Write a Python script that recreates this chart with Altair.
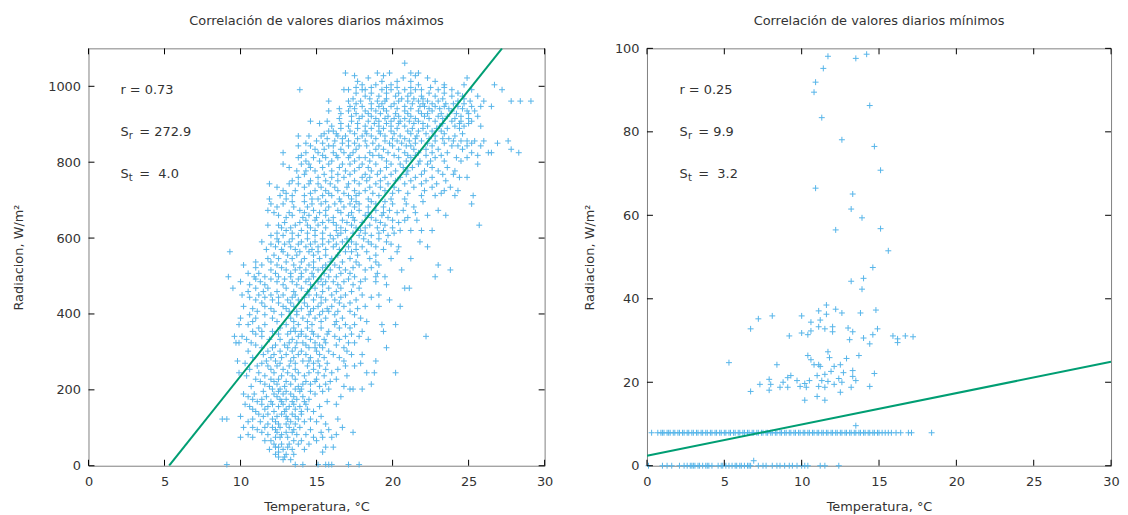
import altair as alt
import pandas as pd

# ---------------- data ----------------
# Left panel: daily maxima, rows of (radiation, [temperatures])
max_low = [
    (3, [9.1, 13.6, 14.1, 15.1, 15.6, 15.8, 16.0, 17.1, 17.8]),
    (23, [12.5, 12.9]),
    (36, [12.5, 15.4]),
    (49, [12.3, 12.5, 13.1, 15.6, 16.1]),
    (57, [12.2, 12.7, 13.2, 13.8, 14.5]),
    (75, [10.0, 10.8, 12.3, 12.6, 13.1, 14.8, 15.4, 16.0]),
    (88, [11.4, 12.4, 13.0, 13.4, 15.3, 17.4]),
    (101, [10.2, 10.8, 11.6, 12.1, 12.6, 13.2, 13.9, 16.7]),
    (110, [11.8, 12.5, 13.0, 13.6, 15.6]),
    (123, [8.8, 9.1, 10.8, 12.1, 13.1, 13.8, 14.6, 16.4]),
    (136, [11.2, 11.8, 12.7, 13.4, 14.0]),
    (149, [10.8, 11.6, 13.0, 13.6, 14.4]),
    (162, [10.3, 11.4, 12.1, 12.8, 13.5, 14.3, 16.3]),
    (175, [10.8, 11.4, 12.6, 13.0, 13.7, 14.5]),
    (189, [10.2, 10.9, 12.2, 12.8, 13.3, 14.9]),
    (202, [12.1, 12.6, 13.6, 14.0, 15.8, 17.2, 17.4, 18.0]),
    (215, [11.6, 12.4, 13.3, 14.1, 14.6, 15.6, 18.6]),
    (228, [11.0, 12.0, 12.5, 13.6, 15.0, 16.3]),
    (245, [9.9, 11.2, 12.2, 13.1, 13.8, 14.5, 15.1, 16.0, 18.3, 18.8, 20.2]),
    (263, [11.1, 11.8, 12.4, 13.2, 14.4, 15.2, 16.9, 17.5]),
    (276, [9.8, 11.7, 12.3, 13.3, 14.1, 14.5, 15.1, 16.8, 18.9]),
    (293, [11.5, 12.2, 13.0, 13.8, 14.3, 15.2, 16.1, 17.3, 18.0]),
    (311, [11.4, 12.1, 13.1, 13.6, 14.5, 14.9, 15.4, 16.8, 19.6]),
    (324, [9.7, 9.9, 10.7, 13.2, 13.7, 14.1, 14.9, 15.6, 17.1, 17.5]),
    (341, [9.6, 10.1, 11.4, 13.8, 14.3, 15.1, 16.2, 16.9, 17.8, 22.2]),
]
max_low_fill = [
    (16, [12.8, 13.3]),
    (30, [12.3, 13.0, 13.5]),
    (43, [11.9, 12.8, 13.4, 14.2]),
    (66, [11.6, 12.0, 13.5, 14.0, 15.0]),
    (82, [10.5, 11.8, 12.7, 13.7, 14.3, 16.3]),
    (95, [11.1, 12.3, 13.5, 14.6, 15.8]),
    (116, [10.5, 11.3, 12.3, 13.3, 14.2, 15.0]),
    (130, [10.0, 11.5, 12.4, 13.0, 13.6, 15.3]),
    (143, [11.0, 12.2, 12.9, 14.0, 14.8]),
    (156, [10.6, 11.8, 12.5, 13.2, 13.9, 15.2]),
    (169, [11.1, 12.0, 12.7, 13.4, 14.2, 15.7]),
    (182, [10.5, 11.7, 12.4, 13.5, 14.1, 16.6]),
    (196, [11.5, 12.5, 13.0, 13.9, 14.6, 15.4]),
    (209, [10.7, 11.9, 12.9, 13.8, 15.2, 16.8]),
    (222, [11.3, 12.2, 13.0, 14.3, 14.9, 15.9]),
    (237, [10.4, 11.6, 12.7, 13.4, 14.2, 15.5, 17.0]),
    (254, [10.6, 12.0, 12.8, 13.6, 14.8, 15.6, 16.4]),
    (270, [10.3, 11.4, 12.6, 13.6, 14.8, 15.7, 17.9]),
    (285, [10.8, 12.0, 12.7, 13.5, 14.6, 15.5, 16.5]),
    (302, [10.5, 11.8, 12.6, 13.4, 14.0, 15.0, 15.8, 17.0]),
    (318, [11.0, 12.3, 12.9, 14.3, 15.2, 16.3]),
    (333, [10.4, 11.9, 12.6, 13.4, 14.6, 15.5, 16.5, 18.4]),
    (347, [11.0, 12.5, 13.1, 14.0, 14.8, 15.7, 17.3]),
]
max_mid = [
    (354, [10.8, 11.4, 12.1, 13.3, 13.6, 14.0, 14.7, 15.8, 18.0, 19.4]),
    (372, [9.9, 10.5, 11.6, 13.0, 13.8, 14.7, 16.2, 16.9, 17.5, 19.3, 20.2]),
    (389, [10.0, 11.0, 12.1, 13.3, 14.1, 14.9, 15.6, 16.7, 17.9]),
    (407, [11.1, 12.2, 13.2, 13.7, 14.6, 15.4, 15.8, 16.4, 17.2]),
    (420, [10.2, 11.6, 12.8, 13.5, 14.4, 15.1, 16.0, 16.8, 18.2, 19.1, 20.5]),
    (437, [11.0, 12.1, 13.1, 13.8, 14.8, 15.6, 16.2, 17.6, 19.8]),
    (450, [10.1, 11.2, 12.0, 12.8, 13.6, 14.5, 15.0, 16.0, 16.9, 18.0, 19.1]),
    (468, [9.5, 11.0, 11.8, 13.0, 14.0, 14.9, 15.8, 16.6, 17.8, 20.8, 21.1]),
    (485, [10.0, 11.3, 12.4, 13.4, 14.3, 15.1, 15.6, 16.1, 16.8, 17.9, 18.9]),
    (498, [9.2, 10.9, 11.6, 12.5, 13.3, 14.0, 14.8, 15.8, 16.3, 17.5, 18.9, 19.5, 22.8]),
    (516, [12.0, 13.0, 13.6, 14.3, 15.1, 15.9, 16.9, 18.2, 20.6, 23.8]),
    (529, [10.2, 11.4, 12.4, 13.5, 14.5, 15.6, 16.2, 17.8, 19.1, 23.0]),
    (546, [11.8, 12.5, 13.4, 14.2, 15.2, 16.0, 17.2, 18.5, 19.9, 21.2]),
    (564, [9.3, 12.8, 13.9, 14.5, 15.1, 16.9, 17.3, 18.3, 20.3]),
    (577, [12.3, 13.3, 14.3, 15.1, 16.1, 17.1, 18.0, 18.9, 20.4, 22.3]),
    (590, [11.4, 12.5, 13.2, 14.0, 14.9, 15.8, 16.7, 17.3, 18.4, 19.6, 21.8]),
    (607, [12.0, 12.8, 13.8, 14.9, 15.9, 16.4, 17.8, 18.6, 19.7]),
    (620, [13.0, 14.0, 14.9, 16.3, 16.9, 17.9, 19.4, 20.5, 21.2, 21.9, 22.6]),
    (634, [11.8, 12.5, 13.6, 14.4, 15.1, 16.3, 17.3, 18.5, 19.5, 25.7]),
    (647, [14.3, 14.9, 15.8, 16.7, 17.5, 18.9, 20.0, 20.8, 21.6]),
    (660, [12.5, 13.4, 14.5, 15.6, 17.1, 18.2, 19.3, 22.3, 23.5]),
    (673, [11.8, 13.9, 14.8, 15.6, 16.4, 17.8, 18.9, 19.8, 20.7, 23.0]),
    (690, [12.0, 12.8, 14.7, 15.3, 16.2, 17.2, 17.8, 18.9, 20.0, 20.9, 25.2]),
]
max_mid_fill = [
    (363, [11.2, 12.6, 13.5, 14.4, 15.3, 16.5, 17.2]),
    (380, [10.8, 12.4, 13.5, 14.4, 15.3, 16.3, 18.3]),
    (398, [10.6, 11.6, 12.7, 13.7, 14.5, 15.2, 16.2, 17.5]),
    (414, [10.8, 12.0, 13.0, 14.0, 14.8, 15.7, 17.7]),
    (429, [11.4, 12.5, 13.3, 14.2, 15.3, 16.5, 17.2]),
    (444, [10.6, 11.6, 12.5, 13.4, 14.2, 15.3, 16.6, 18.6]),
    (459, [10.5, 11.5, 12.4, 13.5, 14.4, 15.4, 16.3, 17.3]),
    (477, [10.6, 11.6, 12.8, 13.7, 14.6, 15.4, 16.4, 17.4, 19.6]),
    (492, [11.0, 12.0, 12.9, 13.8, 14.5, 15.3, 17.1, 18.2]),
    (507, [10.5, 11.2, 12.3, 13.3, 14.0, 14.7, 15.5, 16.6, 17.2, 19.0]),
    (522, [11.0, 12.7, 13.9, 14.8, 15.4, 16.5, 17.4, 18.6]),
    (537, [11.0, 12.0, 13.0, 14.0, 14.8, 15.9, 16.7, 17.6, 18.9]),
    (555, [12.2, 13.1, 13.7, 14.8, 15.6, 16.4, 17.7, 18.9]),
    (570, [11.7, 12.7, 13.6, 14.7, 15.6, 16.5, 17.6, 19.4]),
    (584, [12.0, 12.9, 13.8, 14.6, 15.4, 16.3, 17.6, 18.6, 19.9]),
    (598, [12.4, 13.4, 14.4, 15.4, 16.1, 17.0, 18.1, 19.1]),
    (613, [12.4, 13.4, 14.4, 15.4, 16.6, 17.4, 18.2, 19.1, 20.1]),
    (627, [12.7, 13.3, 14.6, 15.6, 16.6, 17.6, 18.2, 19.0, 20.0]),
    (641, [12.9, 13.9, 15.4, 16.1, 17.0, 18.0, 19.2, 20.4]),
    (654, [13.0, 14.1, 15.0, 16.1, 17.4, 18.6, 19.7, 21.0]),
    (667, [12.2, 13.2, 14.2, 15.2, 16.6, 17.3, 18.4, 19.4, 20.3, 21.5]),
    (682, [12.4, 13.5, 14.4, 15.8, 16.8, 17.5, 18.4, 19.4, 21.4]),
    (696, [13.4, 14.2, 15.6, 16.6, 17.6, 18.6, 19.5, 22.0]),
]
max_high = [
    (703, [11.9, 13.0, 14.7, 15.1, 16.5, 17.3, 18.4, 19.9, 20.8]),
    (712, [12.6, 13.4, 14.2, 15.4, 16.0, 17.1, 17.6, 19.1, 21.9, 22.8, 24.1, 25.3]),
    (725, [12.8, 13.6, 14.9, 15.6, 16.4, 17.5, 18.2, 19.5, 20.4, 22.1, 23.4, 24.3]),
    (743, [11.9, 13.2, 13.8, 14.5, 15.1, 15.9, 17.1, 17.8, 18.9, 19.7, 20.8, 21.9, 22.9]),
    (760, [13.8, 15.1, 16.0, 16.8, 18.0, 18.5, 19.5, 20.5, 21.5, 22.6, 24.4, 24.9]),
    (777, [13.7, 14.3, 14.9, 16.0, 16.9, 17.5, 18.6, 19.2, 20.2, 21.0, 22.1, 23.0, 24.1]),
    (795, [12.8, 14.0, 14.5, 15.8, 16.7, 17.2, 18.0, 18.9, 19.9, 20.5, 21.7, 22.3, 25.6]),
    (812, [13.8, 14.8, 15.6, 16.4, 17.1, 17.8, 18.2, 19.3, 20.4, 21.2, 22.8, 24.2, 24.9]),
    (825, [12.8, 14.3, 15.1, 16.1, 16.8, 17.4, 18.5, 19.7, 20.8, 21.7, 22.6, 23.6, 25.2, 26.3, 26.5, 28.3]),
    (843, [13.8, 14.6, 15.8, 16.1, 17.1, 17.8, 18.3, 19.1, 20.0, 20.9, 21.2, 22.6, 23.9, 24.3, 24.9, 25.8]),
    (856, [15.0, 16.2, 17.1, 18.2, 19.5, 20.3, 21.1, 21.9, 22.8, 24.0, 24.5, 24.9, 25.4, 26.0, 27.6]),
    (869, [13.8, 14.5, 15.3, 16.4, 16.9, 18.0, 18.6, 19.5, 20.5, 21.6, 22.8, 24.1]),
    (882, [15.8, 16.1, 17.2, 18.2, 19.1, 19.9, 21.0, 21.7, 22.6, 23.2]),
    (895, [16.0, 17.1, 18.2, 19.1, 19.9, 20.8, 22.3, 23.1, 24.1, 24.7, 25.8]),
    (908, [14.6, 15.7, 17.3, 18.4, 19.1, 19.9, 20.5, 21.1, 21.7, 22.8, 23.9, 24.5, 25.2]),
    (921, [17.3, 18.0, 18.6, 19.7, 20.4, 21.2, 22.1, 23.0, 23.6, 24.5, 25.6]),
    (935, [15.8, 17.1, 18.2, 18.9, 19.6, 20.8, 21.7, 22.6, 23.9, 24.9, 25.4]),
    (947, [17.2, 18.0, 19.1, 19.9, 20.8, 21.8, 22.1, 22.8, 23.4, 24.3, 25.2, 25.8, 26.5]),
    (961, [15.8, 17.1, 17.9, 19.0, 19.5, 20.4, 21.0, 21.7, 22.3, 23.0, 24.3, 25.1, 26.0, 27.8, 28.4, 29.1]),
    (974, [18.2, 19.1, 20.2, 21.0, 21.9, 22.8, 23.9, 24.6, 25.6]),
    (991, [13.9, 16.8, 17.1, 18.0, 18.2, 19.3, 19.9, 20.8, 21.5, 21.9, 23.0, 23.9, 25.2, 27.2]),
    (1004, [18.0, 18.9, 19.9, 21.7, 23.4, 24.7, 26.7]),
    (1022, [18.4, 20.7, 22.3, 24.9]),
    (1035, [16.9, 19.0, 19.8, 21.2, 21.7]),
    (1061, [20.8]),
]
max_high_fill = [
    (718, [13.0, 14.6, 15.8, 16.8, 17.8, 18.7, 20.0, 21.0, 23.2]),
    (734, [12.4, 14.2, 15.3, 16.2, 17.0, 18.5, 19.2, 20.1, 21.4, 22.6, 23.8]),
    (751, [13.4, 14.6, 15.6, 16.4, 17.5, 18.3, 19.2, 20.2, 21.2, 22.2, 23.5]),
    (768, [14.2, 15.5, 16.4, 17.2, 18.2, 19.0, 19.9, 20.9, 21.9, 23.3, 24.0]),
    (786, [13.2, 14.6, 15.4, 16.5, 17.8, 18.4, 19.6, 20.7, 21.3, 22.6, 23.6]),
    (803, [14.3, 15.2, 16.0, 17.5, 18.5, 19.6, 20.9, 21.8, 22.5, 23.4, 24.5]),
    (818, [14.0, 15.4, 16.3, 17.2, 18.7, 19.1, 20.1, 21.0, 21.5, 22.2, 23.2, 25.6]),
    (834, [14.9, 15.5, 16.6, 17.6, 18.9, 19.4, 20.4, 21.4, 22.2, 23.0, 24.6, 27.8]),
    (850, [14.3, 15.4, 16.7, 17.5, 18.7, 19.8, 20.6, 21.5, 22.3, 23.4, 25.2, 26.9]),
    (862, [15.7, 16.7, 17.7, 18.9, 20.0, 20.8, 21.5, 22.4, 23.3, 23.7]),
    (875, [15.5, 16.3, 17.5, 18.3, 19.2, 20.1, 21.2, 22.2, 23.4, 24.6]),
    (889, [16.6, 17.7, 18.6, 19.4, 20.3, 21.3, 22.0, 22.9, 23.6, 24.4]),
    (902, [15.2, 16.6, 17.7, 18.8, 19.6, 20.4, 21.4, 22.0, 23.3, 24.4, 25.0]),
    (915, [16.5, 17.8, 18.9, 19.5, 20.1, 20.8, 21.5, 22.4, 23.3, 24.1, 25.0]),
    (928, [16.6, 17.6, 18.4, 19.2, 20.2, 21.0, 21.9, 22.3, 23.2, 24.2, 25.0]),
    (941, [16.5, 17.5, 18.6, 19.4, 20.3, 21.2, 22.4, 23.1, 23.7, 24.6]),
    (954, [17.6, 18.6, 19.3, 20.1, 21.3, 22.0, 22.6, 23.5, 24.0, 24.7]),
    (967, [17.4, 18.5, 19.6, 20.6, 21.4, 22.0, 23.3, 24.7]),
    (982, [17.6, 18.6, 19.6, 20.4, 21.2, 22.4, 23.4, 24.3]),
    (997, [17.6, 18.6, 19.6, 20.3, 21.2, 22.5, 23.4]),
    (1013, [17.7, 19.3, 20.3, 21.2, 22.8]),
    (1028, [17.5, 19.4, 21.5]),
]

# Right panel: daily minima
min_zero_x = [0.1, 1.0, 1.3, 1.6, 2.1, 2.4, 2.6, 2.8, 2.9, 3.0, 3.1, 3.3, 3.4, 3.6,
              3.8, 3.9, 4.0, 4.2, 4.6, 4.8, 4.9, 5.1, 5.3, 5.5, 5.7, 5.8, 6.0, 6.1,
              6.3, 6.5, 6.6, 6.7, 7.2, 7.5, 7.7, 8.1, 8.4, 8.6, 8.9, 9.2, 9.4, 9.7,
              10.0, 10.2, 10.4, 11.2, 11.5, 12.4]
min_band_x = [0.3, 0.7, 0.9, 1.0, 1.1, 1.3, 1.4, 1.5, 1.7, 1.8, 2.0, 2.1, 2.3, 2.4,
              2.6, 2.7, 2.9, 3.0, 3.2, 3.3, 3.5, 3.6, 3.8, 3.9, 4.1, 4.2, 4.4, 4.5,
              4.7, 4.8, 5.0, 5.1, 5.3, 5.4, 5.6, 5.7, 5.9, 6.0, 6.2, 6.3, 6.5, 6.6,
              6.8, 6.9, 7.1, 7.2, 7.4, 7.5, 7.7, 7.8, 8.0, 8.1, 8.3, 8.4, 8.6, 8.7,
              8.9, 9.0, 9.2, 9.3, 9.5, 9.6, 9.8, 9.9, 10.1, 10.2, 10.4, 10.5, 10.7,
              10.8, 11.0, 11.1, 11.3, 11.4, 11.6, 11.7, 11.9, 12.0, 12.2, 12.3, 12.5,
              12.6, 12.8, 12.9, 13.1, 13.2, 13.4, 13.5, 13.7, 13.8, 14.0, 14.1, 14.3,
              14.4, 14.6, 14.7, 14.9, 15.0, 15.2, 15.4, 15.6, 15.8, 16.1, 16.4, 16.9,
              17.1, 18.4]
min_band_y = 7.9
min_scatter = [
    (11.7, 98.1), (13.5, 97.6), (14.2, 98.6), (11.4, 95.2), (10.9, 91.9), (10.8, 89.5),
    (14.4, 86.3), (11.3, 83.4), (12.6, 78.1), (14.7, 76.5), (15.1, 70.8), (10.9, 66.5),
    (13.3, 65.1), (13.2, 61.5), (13.9, 59.4), (12.2, 56.5), (15.1, 56.8), (15.6, 51.5),
    (14.6, 47.5), (13.2, 44.2), (14.0, 44.9), (13.9, 42.3), (11.6, 38.5), (11.1, 37.1),
    (12.2, 37.5), (12.6, 36.6), (13.8, 36.6), (14.8, 37.3), (7.2, 35.2), (8.1, 35.9),
    (10.0, 35.9), (10.6, 34.4), (11.2, 34.9), (11.6, 36.3), (6.7, 32.8), (11.1, 33.3),
    (11.5, 32.8), (12.0, 33.3), (12.0, 32.1), (13.0, 33.0), (13.3, 32.1), (14.9, 32.8),
    (9.2, 31.1), (10.0, 31.8), (10.4, 31.4), (10.6, 32.3), (13.1, 30.2), (14.0, 30.6),
    (14.4, 29.2), (14.6, 31.4), (15.9, 31.1), (16.2, 30.4), (16.2, 29.5), (16.7, 31.1),
    (17.2, 30.9), (5.3, 24.7), (10.4, 26.4), (10.6, 25.4), (11.7, 27.3), (11.8, 25.9),
    (12.9, 25.7), (13.7, 26.4), (8.4, 24.2), (10.8, 24.2), (11.1, 24.2), (11.2, 23.8),
    (12.1, 23.8), (12.5, 24.2), (11.9, 22.6), (12.7, 22.3), (13.3, 22.8), (14.7, 22.1),
    (9.3, 21.6), (11.0, 21.6), (11.5, 21.9), (7.9, 20.7), (9.1, 21.1), (9.7, 20.4),
    (10.2, 19.7), (10.5, 20.4), (11.3, 20.4), (11.7, 20.2), (12.4, 20.9), (12.6, 20.0),
    (13.3, 21.4), (13.5, 20.4), (7.3, 19.5), (8.0, 19.5), (8.8, 20.0), (8.6, 18.8),
    (9.1, 18.8), (9.9, 19.0), (10.3, 18.8), (11.1, 19.0), (11.5, 18.8), (12.1, 19.5),
    (13.2, 18.8), (14.4, 19.0), (6.7, 17.8), (7.9, 18.1), (12.5, 17.6), (11.0, 16.6),
    (11.5, 15.7), (10.2, 15.7), (13.5, 9.6), (6.9, 1.2),
]

# regression lines (end points)
fit_max_t = [5.3, 27.2]
fit_max_r = [0, 1100]
fit_min_t = [0, 30]
fit_min_r = [2.4, 24.9]

x_ticks = [0, 5, 10, 15, 20, 25, 30]
y_ticks_max = [0, 200, 400, 600, 800, 1000]
y_ticks_min = [0, 20, 40, 60, 80, 100]

stats_max = ["r = 0.73", "= 272.9", "=\u00a0\u00a04.0"]
stats_min = ["r = 0.25", "= 9.9", "=\u00a0\u00a03.2"]

# ---------------- styling ----------------
FONT = "DejaVu Sans"
TXT = "#333333"
PT = "#56B4E9"
LN = "#009E73"
PLUS = "M-1,0L1,0M0,-1L0,1"
TICK_LEN = 6


def rows_to_df(*groups):
    recs = []
    for g in groups:
        for r, ts in g:
            for t in ts:
                recs.append({"t": t, "r": r})
    return pd.DataFrame(recs)


df_max = rows_to_df(max_low, max_low_fill, max_mid, max_mid_fill, max_high, max_high_fill)
df_min = pd.DataFrame(
    [{"t": t, "r": 0.0} for t in min_zero_x]
    + [{"t": t, "r": min_band_y} for t in min_band_x]
    + [{"t": t, "r": r} for t, r in min_scatter]
)


def panel(df, fit_t, fit_r, ymax, yticks, stats, title, W, H, toff, ytpad):
    xs = alt.Scale(domain=[0, 30], nice=False, zero=False)
    ys = alt.Scale(domain=[0, ymax], nice=False, zero=False)
    xax = alt.Axis(values=x_ticks, tickSize=0, domain=False, grid=False, format="d",
                   labelFlush=False, labelPadding=10, title="Temperatura, °C",
                   titlePadding=12)
    yax = alt.Axis(values=yticks, tickSize=0, domain=False, grid=False, format="d",
                   labelFlush=False, labelPadding=8, title="Radiacion, W/m²",
                   titlePadding=ytpad)
    X = alt.X("t:Q", scale=xs, axis=xax)
    Y = alt.Y("r:Q", scale=ys, axis=yax)

    pts = alt.Chart(df).mark_point(shape=PLUS, filled=False, size=36,
                                   strokeWidth=1, color=PT, opacity=1).encode(x=X, y=Y)
    line = alt.Chart(pd.DataFrame({"t": fit_t, "r": fit_r})).mark_line(
        color=LN, strokeWidth=2, clip=True).encode(x=X, y=Y)
    xt = pd.DataFrame({"t": x_ticks})
    yt = pd.DataFrame({"r": yticks})
    tb = alt.Chart(xt).mark_rule(color="#000000", strokeWidth=1).encode(
        x=X, y=alt.value(H), y2=alt.value(H - TICK_LEN))
    tt = alt.Chart(xt).mark_rule(color="#000000", strokeWidth=1).encode(
        x=X, y=alt.value(0), y2=alt.value(TICK_LEN))
    tl = alt.Chart(yt).mark_rule(color="#000000", strokeWidth=1).encode(
        y=Y, x=alt.value(0), x2=alt.value(TICK_LEN))
    tr = alt.Chart(yt).mark_rule(color="#000000", strokeWidth=1).encode(
        y=Y, x=alt.value(W - TICK_LEN), x2=alt.value(W))

    ann = pd.DataFrame({
        "t": [2.1, 2.1, 2.1],
        "r": [0.9 * ymax, 0.8 * ymax, 0.7 * ymax],
        "s": ["", "r", "t"],
        "lbl": [stats[0], "S", "S"],
        "rest": ["", stats[1], stats[2]],
    })
    base = alt.Chart(ann).encode(x=X, y=Y)
    t1 = base.mark_text(align="left", baseline="middle", font=FONT, fontSize=13,
                        color=TXT).encode(text="lbl:N")
    t2 = base.mark_text(align="left", baseline="middle", font=FONT, fontSize=10,
                        color=TXT, dx=8.5, dy=4).encode(text="s:N")
    t3 = base.mark_text(align="left", baseline="middle", font=FONT, fontSize=13,
                        color=TXT, dx=19).encode(text="rest:N")

    return alt.layer(pts, line, tb, tt, tl, tr, t1, t2, t3).properties(
        width=W, height=H,
        title=alt.Title(title, font=FONT, fontSize=13, fontWeight="normal",
                        color=TXT, offset=toff),
    )


left = panel(df_max, fit_max_t, fit_max_r, 1100, y_ticks_max, stats_max,
             "Correlación de valores diarios máximos", 459, 420, 20, 22)
right = panel(df_min, fit_min_t, fit_min_r, 100, y_ticks_min, stats_min,
              "Correlación de valores diarios mínimos", 467, 420, 15, 18)

chart = alt.hconcat(left, right, spacing=29).configure(
    font=FONT, padding={"left": 4, "top": 4, "right": 0, "bottom": 5}
).configure_view(
    stroke="#808080", strokeWidth=1
).configure_axis(
    labelFont=FONT, labelFontSize=13, labelColor=TXT,
    titleFont=FONT, titleFontSize=13, titleColor=TXT, titleFontWeight="normal",
)

chart.save("out.html", embed_options={"renderer": "svg", "actions": False})
